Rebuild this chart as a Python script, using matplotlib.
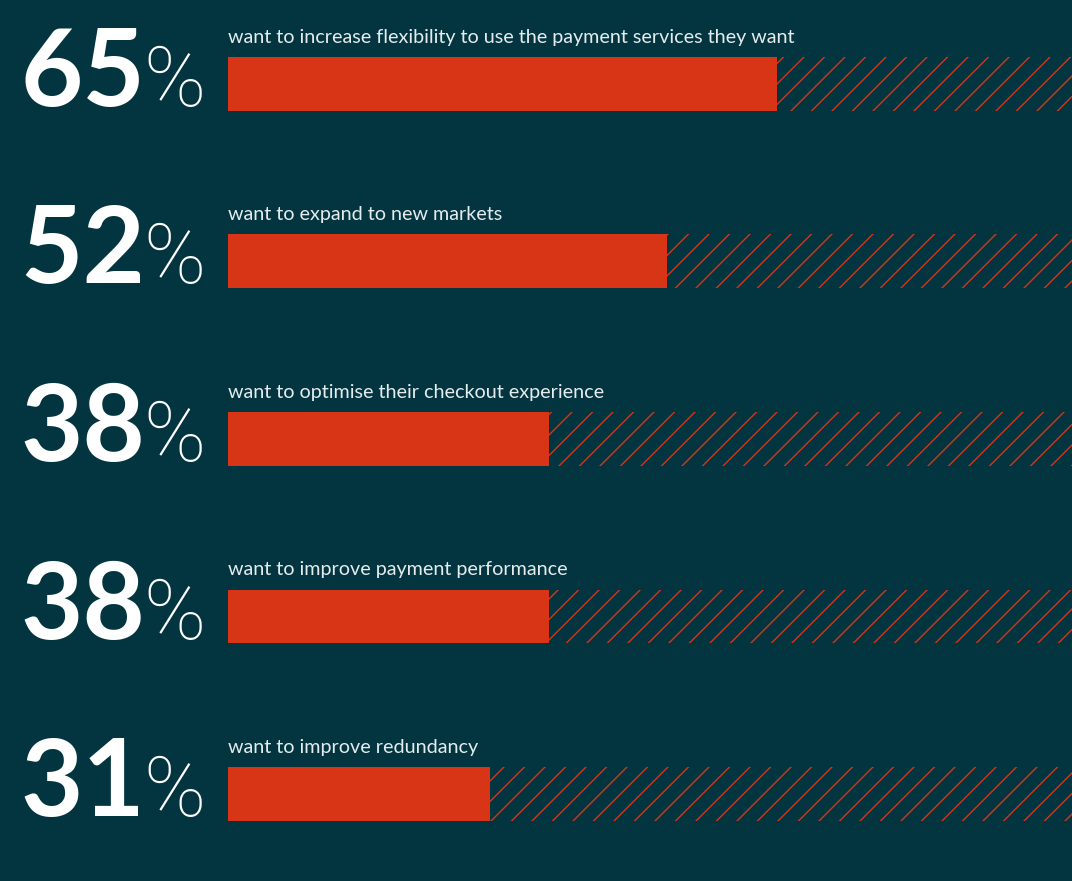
import matplotlib.pyplot as plt
import matplotlib as mpl

#### data ####
values = [65, 52, 38, 38, 31]
labels = [
    "want to increase flexibility to use the payment services they want",
    "want to expand to new markets",
    "want to optimise their checkout experience",
    "want to improve payment performance",
    "want to improve redundancy",
]

#### style ####
bg = "#02353f"
red = "#d83517"
txt = "#e6ecee"
mpl.rcParams["hatch.linewidth"] = 0.8
mpl.rcParams["hatch.color"] = red

DPI = 123
W, H = 1072, 881
fig = plt.figure(figsize=(W / DPI, H / DPI), dpi=DPI, facecolor=bg)
ax = fig.add_axes([228 / W, 0, 1 - 228 / W, 1])
ax.set_facecolor(bg)
ax.set_xlim(0, 100)
ax.set_ylim(4.49, -0.473)
ax.axis("off")

bar_h = 0.304
ypos = list(range(len(values)))

# hatched track behind each bar, solid bar on top
ax.barh(ypos, [100] * len(values), height=bar_h, color="none",
        edgecolor=red, linewidth=0, hatch="//")
ax.barh(ypos, values, height=bar_h, color=red, linewidth=0)

nums = []
for i, (v, lab) in enumerate(zip(values, labels)):
    ax.text(0, i - bar_h / 2 - 0.079, lab, color=txt, fontsize=11.6,
            family="Lato", ha="left", va="baseline")
    t = ax.text(-24.6, i + 0.124, str(v), color="white", fontsize=63,
                family="Lato", fontweight="bold", ha="left", va="baseline",
                clip_on=False)
    nums.append(t)

# put the % sign right after each number
fig.canvas.draw()
r = fig.canvas.get_renderer()
inv = ax.transData.inverted()
for i, t in enumerate(nums):
    bb = t.get_window_extent(r)
    x1 = inv.transform((bb.x1 - 2, 0))[0]
    ax.text(x1, i + 0.124, "%", color="white", fontsize=49,
            family="Roboto", fontweight="light", ha="left", va="baseline",
            clip_on=False)

fig.savefig("out.png", dpi=DPI, facecolor=bg)
